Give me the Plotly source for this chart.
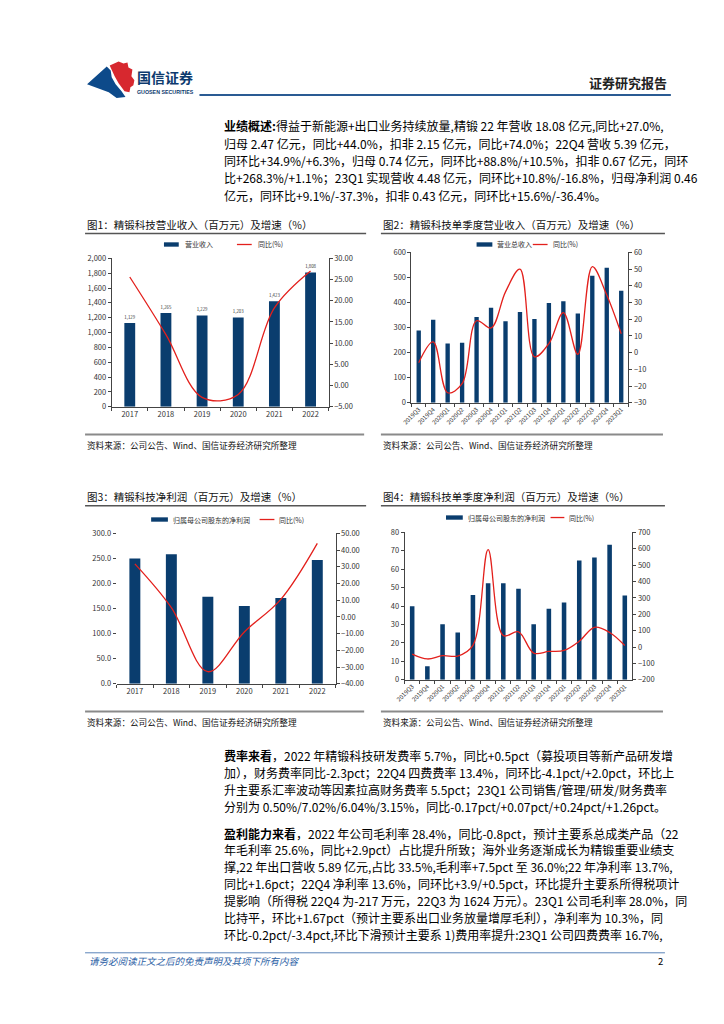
import plotly.graph_objects as go

W, H = 724, 1024
FONT = "Noto Sans CJK SC"
NAVY = "#0a3d6e"
RED = "#e3201c"
AX = "#444444"

# ---------------- data ----------------
years = ["2017", "2018", "2019", "2020", "2021", "2022"]
rev_annual = [1129, 1265, 1229, 1203, 1423, 1808]
rev_annual_yoy = [25.6, 12.0, -2.8, -2.1, 18.3, 27.0]

quarters = ["2019Q3", "2019Q4", "2020Q1", "2020Q2", "2020Q3", "2020Q4", "2021Q1", "2021Q2",
            "2021Q3", "2021Q4", "2022Q1", "2022Q2", "2022Q3", "2022Q4", "2023Q1"]
rev_q = [288, 331, 237, 240, 342, 379, 325, 362, 334, 398, 405, 356, 507, 539, 447]
rev_q_yoy = [-6, 6.4, -24, -18.6, 19.1, 14.8, 36.4, 50, -2.5, 5.4, 24, -1, 51.5, 34.5, 11.3]

np_annual = [250.0, 258.5, 173.7, 155.0, 171.0, 247.0]
np_annual_yoy = [31.7, 5.5, -32.8, -9.0, 10.5, 44.0]

np_q = [39.9, 7.3, 30.2, 25.6, 46.0, 52.4, 52.4, 49.4, 30.2, 38.5, 41.9, 64.8, 66.4, 73.3, 45.8]
np_q_yoy = [-43, -73, -53, -55, 10, 595, 70, 93, -37, -27, -21, 35, 120, 89, 9]

titles = ["图1：精锻科技营业收入（百万元）及增速（%）",
          "图2：精锻科技单季度营业收入（百万元）及增速（%）",
          "图3：精锻科技净利润（百万元）及增速（%）",
          "图4：精锻科技单季度净利润（百万元）及增速（%）"]
bar_names = ["营业收入", "营业总收入", "归属母公司股东的净利润", "归属母公司股东的净利润"]
line_name = "同比(%)"
source_text = "资料来源：公司公告、Wind、国信证券经济研究所整理"

para1 = ["<b>业绩概述:</b>得益于新能源+出口业务持续放量,精锻 22 年营收 18.08 亿元,同比+27.0%,",
         "归母 2.47 亿元，同比+44.0%，扣非 2.15 亿元，同比+74.0%；22Q4 营收 5.39 亿元，",
         "同环比+34.9%/+6.3%，归母 0.74 亿元，同环比+88.8%/+10.5%，扣非 0.67 亿元，同环",
         "比+268.3%/+1.1%；23Q1 实现营收 4.48 亿元，同环比+10.8%/-16.8%，归母净利润 0.46",
         "亿元，同环比+9.1%/-37.3%，扣非 0.43 亿元，同环比+15.6%/-36.4%。"]
para2 = ["<b>费率来看</b>，2022 年精锻科技研发费率 5.7%，同比+0.5pct（募投项目等新产品研发增",
         "加），财务费率同比-2.3pct；22Q4 四费费率 13.4%，同环比-4.1pct/+2.0pct，环比上",
         "升主要系汇率波动等因素拉高财务费率 5.5pct；23Q1 公司销售/管理/研发/财务费率",
         "分别为 0.50%/7.02%/6.04%/3.15%，同比-0.17pct/+0.07pct/+0.24pct/+1.26pct。"]
para3 = ["<b>盈利能力来看</b>，2022 年公司毛利率 28.4%，同比-0.8pct，预计主要系总成类产品（22",
         "年毛利率 25.6%，同比+2.9pct）占比提升所致；海外业务逐渐成长为精锻重要业绩支",
         "撑,22 年出口营收 5.89 亿元,占比 33.5%,毛利率+7.5pct 至 36.0%;22 年净利率 13.7%,",
         "同比+1.6pct；22Q4 净利率 13.6%，同环比+3.9/+0.5pct，环比提升主要系所得税项计",
         "提影响（所得税 22Q4 为-217 万元，22Q3 为 1624 万元）。23Q1 公司毛利率 28.0%，同",
         "比持平，环比+1.67pct（预计主要系出口业务放量增厚毛利），净利率为 10.3%，同",
         "环比-0.2pct/-3.4pct,环比下滑预计主要系 1)费用率提升:23Q1 公司四费费率 16.7%,"]


def fx(x):
    return x / W


def fy(y):
    return 1 - y / H


fig = go.Figure()
shapes = []
annotations = []


def text(x, y, s, size=12, color="#000", xanchor="left", bold=False, italic=False, family=FONT):
    if bold:
        s = "<b>" + s + "</b>"
    if italic:
        s = "<i>" + s + "</i>"
    annotations.append(dict(x=fx(x), y=fy(y), xref="paper", yref="paper", text=s, showarrow=False,
                            xanchor=xanchor, yanchor="middle",
                            font=dict(family=family, size=size, color=color)))


def hline(x0, x1, y, color, width):
    shapes.append(dict(type="line", xref="paper", yref="paper", x0=fx(x0), x1=fx(x1), y0=fy(y), y1=fy(y),
                       line=dict(color=color, width=width)))


def path(pts, color):
    d = "M " + " L ".join(f"{fx(a):.5f},{fy(b):.5f}" for a, b in pts) + " Z"
    shapes.append(dict(type="path", xref="paper", yref="paper", path=d, fillcolor=color,
                       line=dict(width=0)))


# ---------------- header ----------------
path([(70, 71), (90, 53), (94, 57), (95, 64), (99, 71), (105, 78), (109, 84), (100, 85), (92, 79)], "#0d4a8a")
path([(93, 52), (102, 48), (107, 50), (111, 49), (112, 54), (116, 56), (115, 63), (118, 67), (117, 72),
      (114, 74), (113, 79), (108, 78), (102, 70), (98, 63)], "#d7282f")
text(119, 64, "国信证券", size=14, color="#0d3a6e", bold=True)
text(119, 78.5, "GUOSEN SECURITIES", size=5.3, color="#0d3a6e", bold=True, family="Liberation Sans")
text(660, 69, "证券研究报告", size=13, color="#222", xanchor="right", bold=True)
hline(184, 662, 82, "#2a5b93", 2)

# ---------------- paragraphs ----------------
for i, s in enumerate(para1):
    text(207, 113 + i * 17.5, s, size=12)
for i, s in enumerate(para2):
    text(207, 750 + i * 17.1, s, size=12)
for i, s in enumerate(para3):
    text(207, 828 + i * 17.0, s, size=12)

# ---------------- footer ----------------
hline(68, 656, 949, "#5b84b8", 1)
text(70, 957, "请务必阅读正文之后的免责声明及其项下所有内容", size=9.5, color="#2d62a6", italic=True)
text(656, 957, "2", size=9.5, color="#000", xanchor="right")

# ---------------- charts ----------------
charts = [
    dict(cats=years, bars=rev_annual, line=rev_annual_yoy, x0=68, x1=353, ty=213, sep=222, src_line=425, src=436,
         px0=95, px1=315, py0=247, py1=397, left=dict(range=[0, 2000], dtick=200, tickformat=",d"),
         right=dict(range=[-5, 30], dtick=5, tickformat=".2f"), leftline=True, angle=0,
         leg=(148, 163, 167, 222, 237, 241, 233), barlabels=True),
    dict(cats=quarters, bars=rev_q, line=rev_q_yoy, x0=368, x1=656, ty=213, sep=222, src_line=425, src=436,
         px0=399, px1=619, py0=241, py1=393, left=dict(range=[0, 600], dtick=100, tickformat="d"),
         right=dict(range=[-30, 60], dtick=10, tickformat="d"), leftline=True, angle=-45,
         leg=(465, 481, 484, 522, 537, 540, 233), barlabels=False),
    dict(cats=years, bars=np_annual, line=np_annual_yoy, x0=68, x1=353, ty=488, sep=497, src_line=705, src=716,
         px0=100, px1=322, py0=525, py1=677, left=dict(range=[0, 300], dtick=50, tickformat=".1f"),
         right=dict(range=[-40, 50], dtick=10, tickformat=".2f"), leftline=False, angle=0,
         leg=(135, 152, 155, 245, 260, 263, 511), barlabels=False),
    dict(cats=quarters, bars=np_q, line=np_q_yoy, x0=368, x1=656, ty=488, sep=497, src_line=705, src=716,
         px0=392, px1=623, py0=524, py1=673, left=dict(range=[0, 80], dtick=10, tickformat="d"),
         right=dict(range=[-200, 700], dtick=100, tickformat="d"), leftline=True, angle=-45,
         leg=(434, 451, 454, 540, 554, 557, 509), barlabels=False),
]

layout_axes = {}
tickfont = dict(family=FONT, size=7.5, color="#333")
for i, c in enumerate(charts):
    xa = "x" if i == 0 else f"x{i + 1}"
    yl_n = 2 * i + 1
    yr_n = 2 * i + 2
    yl = "y" if yl_n == 1 else f"y{yl_n}"
    yr = f"y{yr_n}"
    fig.add_trace(go.Bar(x=c["cats"], y=c["bars"], xaxis=xa, yaxis=yl, marker=dict(color=NAVY, line=dict(width=0)),
                         width=0.3, showlegend=False, name=bar_names[i],
                         text=[f"{v:,}" for v in c["bars"]] if c["barlabels"] else None,
                         textposition="outside" if c["barlabels"] else None,
                         textfont=dict(family=FONT, size=7.5, color="#333"), cliponaxis=False))
    fig.add_trace(go.Scatter(x=c["cats"], y=c["line"], xaxis=xa, yaxis=yr, mode="lines",
                             line=dict(color=RED, width=1.3, shape="spline", smoothing=1.0),
                             showlegend=False, name=line_name, cliponaxis=False))
    xdom = [fx(c["px0"]), fx(c["px1"])]
    ydom = [fy(c["py1"]), fy(c["py0"])]
    xkey = "xaxis" if i == 0 else f"xaxis{i + 1}"
    ylkey = "yaxis" if yl_n == 1 else f"yaxis{yl_n}"
    yrkey = f"yaxis{yr_n}"
    layout_axes[xkey] = dict(domain=xdom, anchor=yl, type="category", showline=True, linecolor=AX, linewidth=1,
                             ticks="outside", tickson="boundaries", ticklen=3, tickcolor=AX,
                             tickangle=c["angle"], tickfont=dict(family=FONT, size=6 if c["angle"] else 7.5, color="#333"),
                             showgrid=False, zeroline=False, fixedrange=True)
    layout_axes[ylkey] = dict(domain=ydom, anchor=xa, range=c["left"]["range"], dtick=c["left"]["dtick"],
                              tickformat=c["left"]["tickformat"], showline=c["leftline"], linecolor=AX, linewidth=1,
                              ticks="outside", ticklen=3, tickcolor=AX, tickfont=tickfont, showgrid=False,
                              zeroline=False)
    layout_axes[yrkey] = dict(domain=ydom, anchor=xa, overlaying=yl, side="right", range=c["right"]["range"],
                              dtick=c["right"]["dtick"], tickformat=c["right"]["tickformat"], showline=True,
                              linecolor=AX, linewidth=1, ticks="outside", ticklen=3, tickcolor=AX,
                              tickfont=tickfont, showgrid=False, zeroline=False)
    # title, separators, source
    text(c["x0"], c["ty"], titles[i], size=10.5, color="#111")
    hline(c["x0"], c["x1"], c["sep"], "#555", 1.5)
    hline(c["x0"], c["x1"] - 2, c["src_line"], "#8a8a8a", 2)
    text(c["x0"], c["src"], source_text, size=8.6, color="#111")
    # legend
    bx0, bx1, bt, lx0, lx1, lt, ly = c["leg"]
    shapes.append(dict(type="rect", xref="paper", yref="paper", x0=fx(bx0), x1=fx(bx1), y0=fy(ly + 2.2),
                       y1=fy(ly - 2.2), fillcolor=NAVY, line=dict(width=0)))
    text(bt, ly, bar_names[i], size=7, color="#333")
    shapes.append(dict(type="line", xref="paper", yref="paper", x0=fx(lx0), x1=fx(lx1), y0=fy(ly), y1=fy(ly),
                       line=dict(color=RED, width=1.3)))
    text(lt, ly, line_name, size=7, color="#333")

fig.update_layout(width=W, height=H, margin=dict(l=0, r=0, t=0, b=0), paper_bgcolor="white",
                  plot_bgcolor="white", shapes=shapes, annotations=annotations, bargap=0.7,
                  font=dict(family=FONT), **layout_axes)

fig.write_html("out.html")
